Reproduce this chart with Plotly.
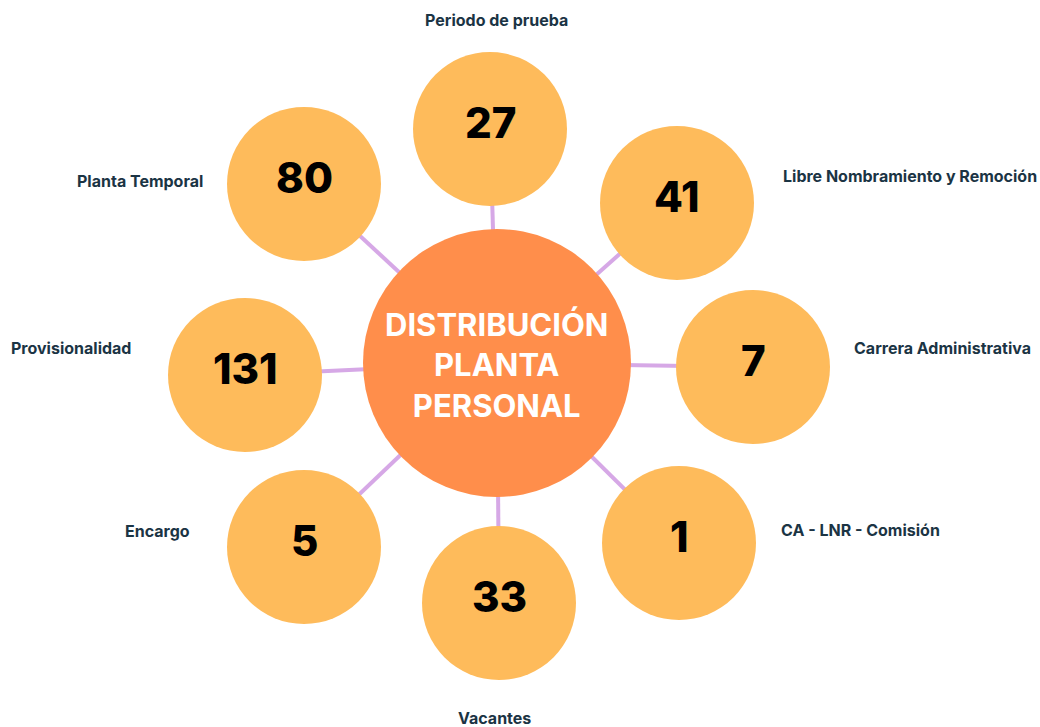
import plotly.graph_objects as go

# ---- data ----
categories = [
    "Periodo de prueba",
    "Libre Nombramiento y Remoción",
    "Carrera Administrativa",
    "CA - LNR - Comisión",
    "Vacantes",
    "Encargo",
    "Provisionalidad",
    "Planta Temporal",
]
values = [27, 41, 7, 1, 33, 5, 131, 80]
center_title = "DISTRIBUCIÓN<br>PLANTA<br>PERSONAL"

# ---- layout (pixel positions) ----
W, H = 1040, 727
center_xy = (497, 363)
center_r = 134
node_r = 77
node_xy = [(490, 129), (677, 203), (753, 367), (679, 543),
           (499, 603), (304, 547), (245, 375), (304, 184)]
label_xy = [(496, 20), (910, 176), (942, 348), (860, 530),
            (494, 718), (157, 531), (71, 348), (140, 181)]

ORANGE_LIGHT = "#FEBB5B"
ORANGE = "#FF8E4B"
PURPLE = "#D6A8E6"
LABEL_COLOR = "#1B3444"

fig = go.Figure()
shapes = []
cx, cy = center_xy
for (x, y) in node_xy:
    shapes.append(dict(type="line", x0=cx, y0=cy, x1=x, y1=y,
                       line=dict(color=PURPLE, width=4), layer="below"))
for (x, y) in node_xy:
    shapes.append(dict(type="circle", x0=x - node_r, x1=x + node_r,
                       y0=y - node_r, y1=y + node_r,
                       fillcolor=ORANGE_LIGHT, line=dict(width=0), layer="below"))
shapes.append(dict(type="circle", x0=cx - center_r, x1=cx + center_r,
                   y0=cy - center_r, y1=cy + center_r,
                   fillcolor=ORANGE, line=dict(width=0), layer="below"))

annotations = []
for v, (x, y) in zip(values, node_xy):
    annotations.append(dict(x=x, y=y - 7, text=str(v), showarrow=False,
                            font=dict(family="Inter", size=42, color="#000000", weight=800),
                            xanchor="center", yanchor="middle"))
for c, (x, y) in zip(categories, label_xy):
    annotations.append(dict(x=x, y=y, text=c, showarrow=False,
                            font=dict(family="Inter", size=16, color=LABEL_COLOR, weight=700),
                            xanchor="center", yanchor="middle"))
annotations.append(dict(x=cx, y=cy + 2, text=center_title, showarrow=False,
                        font=dict(family="Inter", size=31, color="#FFFFFF", weight=700),
                        xanchor="center", yanchor="middle"))

fig.update_layout(
    width=W, height=H,
    margin=dict(l=0, r=0, t=0, b=0),
    paper_bgcolor="white", plot_bgcolor="white",
    showlegend=False,
    shapes=shapes, annotations=annotations,
    xaxis=dict(range=[0, W], visible=False, fixedrange=True),
    yaxis=dict(range=[H, 0], visible=False, fixedrange=True),
)

fig.write_html("out.html", include_plotlyjs=True,
               config={"displayModeBar": False},
               post_script="document.body.style.margin='0';document.body.style.overflow='hidden';")
